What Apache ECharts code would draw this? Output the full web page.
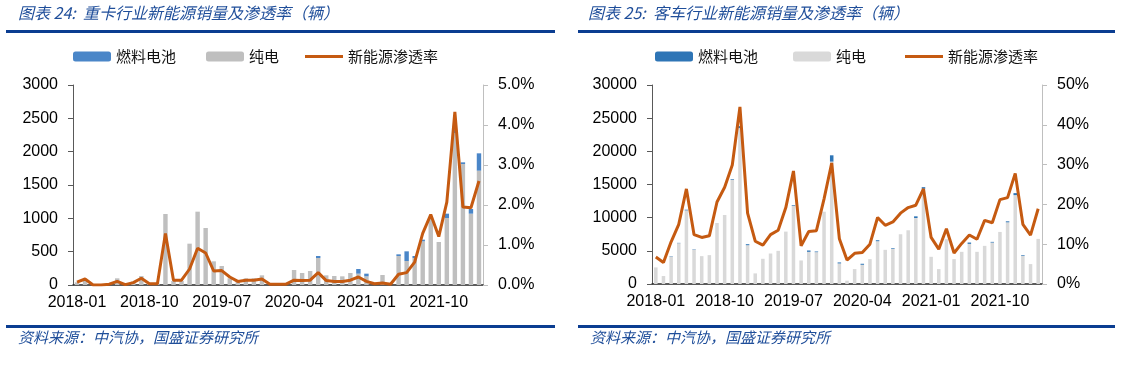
<!DOCTYPE html>
<html><head><meta charset="utf-8">
<script src="https://cdn.jsdelivr.net/npm/echarts@6/dist/echarts.min.js"></script>
<style>
html,body{margin:0;padding:0;background:#fff;}
#a,#b{position:absolute;top:0;width:561px;height:377px;}
#a{left:0}#b{left:561px}
</style></head><body>
<div id="a"></div><div id="b"></div>
<script>
const months = ['2018-01','2018-02','2018-03','2018-04','2018-05','2018-06','2018-07','2018-08','2018-09','2018-10','2018-11','2018-12',
'2019-01','2019-02','2019-03','2019-04','2019-05','2019-06','2019-07','2019-08','2019-09','2019-10','2019-11','2019-12',
'2020-01','2020-02','2020-03','2020-04','2020-05','2020-06','2020-07','2020-08','2020-09','2020-10','2020-11','2020-12',
'2021-01','2021-02','2021-03','2021-04','2021-05','2021-06','2021-07','2021-08','2021-09','2021-10','2021-11','2021-12',
'2022-01','2022-02','2022-03'];

// 重卡 (heavy trucks)
const truckBEV = [40,60,0,0,20,100,10,50,135,20,20,1065,60,60,620,1100,855,355,285,100,50,100,100,145,0,0,0,225,180,210,405,145,135,130,180,170,130,0,150,0,435,360,405,655,1000,645,1005,2280,1815,1070,1715];
const truckFCV = [0,0,0,0,0,0,0,0,0,0,0,0,0,0,0,0,0,0,0,0,0,0,0,0,0,0,0,0,0,0,30,0,0,0,0,70,40,0,0,0,25,145,30,25,20,0,65,50,25,70,260];
const truckRate = [0.07,0.15,0,0,0.02,0.09,0.01,0.06,0.17,0.03,0.03,1.29,0.12,0.12,0.4,0.92,0.8,0.35,0.36,0.2,0.09,0.12,0.12,0.15,0.02,0.02,0.02,0.12,0.11,0.12,0.31,0.11,0.09,0.09,0.12,0.2,0.09,0.03,0.05,0.02,0.27,0.31,0.57,1.29,1.76,1.21,2.07,4.33,1.95,1.93,2.6];

// 客车 (buses)
const busBEV = [2500,1200,4150,6150,11100,5200,4200,4350,9200,10400,15700,23500,5850,1600,3800,4600,5000,7900,11800,3550,4850,4800,10900,18450,3100,500,2250,2900,3750,6450,5150,5300,7500,8100,9950,14350,4100,2250,6750,3750,4850,6050,4850,5750,6250,7850,9300,13400,4250,3000,6800];
const busFCV = [0,0,50,50,100,50,0,0,0,0,100,300,150,0,0,0,0,0,100,0,200,100,0,950,150,0,0,150,0,150,0,100,0,0,250,250,0,0,0,0,0,200,0,0,100,0,150,300,100,0,0];
const busRate = [6.8,5.4,10.6,15,23.9,12.4,11.7,12.1,20.6,24.3,29.9,44.5,17.8,10.75,9.75,12.4,13.5,19.2,28.4,9.6,13.2,13.4,21.4,30.4,11.4,6,7.7,7.9,10,16.7,14.75,15.6,17.8,19.2,19.8,23.9,11.7,8.75,13.9,7.8,10.2,12.3,11.25,16,15.4,21.2,21.7,27.8,15,12.3,18.9];

const barNames = ['燃料电池','纯电'];
const lineName = '新能源渗透率';
const SRC = '资料来源：中汽协，国盛证券研究所';
const BLUE_TXT = '#1f4e9a', RULE = '#0b3d91', ORANGE = '#C55A11';

function build(c){
  const legendText = {fontSize:15, color:'#111', fontFamily:'Noto Sans CJK SC'};
  return {
    animation:false,
    textStyle:{fontFamily:'Liberation Sans'},
    graphic:[
      {type:'text', left:c.titleX, top:5, style:{text:c.title, font:'italic 16px "Noto Sans CJK SC"', fill:BLUE_TXT}},
      {type:'rect', shape:{x:c.r0, y:30, width:c.r1-c.r0, height:3}, style:{fill:RULE}},
      {type:'rect', shape:{x:c.r0, y:325, width:c.r1-c.r0, height:3}, style:{fill:RULE}},
      {type:'text', left:c.srcX, top:330, style:{text:SRC, font:'italic 15px "Noto Sans CJK SC"', fill:BLUE_TXT}}
    ],
    legend:[
      {left:c.legendX, top:49, padding:0, itemWidth:38, itemHeight:10, itemGap:c.legendGap,
        textStyle:legendText, data:barNames},
      {left:c.legend2X, top:49, padding:0, itemWidth:38, itemHeight:3, icon:'rect',
        textStyle:legendText, data:[lineName]}
    ],
    grid:{left:c.gridL, top:85, width:c.gridW, height:c.gridH},
    xAxis:{type:'category', data:months,
      axisLine:{lineStyle:{color:'#262626', width:1.5}},
      axisTick:{inside:true, length:5, interval:0, lineStyle:{color:'#262626'}},
      axisLabel:{interval:8, fontSize:16, color:'#000', margin:10}},
    yAxis:[
      {type:'value', min:0, max:c.max, interval:c.interval, splitLine:{show:false},
        axisLine:{show:true, lineStyle:{color:'#595959'}},
        axisTick:{show:true, length:5, lineStyle:{color:'#595959'}},
        axisLabel:{fontSize:16, color:'#000', margin:15, formatter:v=>String(v)}},
      {type:'value', min:0, max:c.rmax, interval:c.rint, position:'right', splitLine:{show:false},
        axisLine:{show:true, lineStyle:{color:'#bfbfbf'}},
        axisTick:{show:true, length:5, lineStyle:{color:'#bfbfbf'}},
        axisLabel:{fontSize:16, color:'#000', margin:15, formatter:c.fmt}}
    ],
    series:[
      {name:'纯电', type:'bar', stack:'s', data:c.bev, barWidth:c.barW, itemStyle:{color:c.gray}},
      {name:'燃料电池', type:'bar', stack:'s', data:c.fcv, barWidth:c.barW, itemStyle:{color:c.blue}},
      {name:lineName, type:'line', yAxisIndex:1, data:c.rate, symbol:'none', z:5,
        lineStyle:{width:3, color:ORANGE}, itemStyle:{color:ORANGE}}
    ]
  };
}

const ca = echarts.init(document.getElementById('a'));
ca.setOption(build({
  title:'图表 24:  重卡行业新能源销量及渗透率（辆）', titleX:18, r0:6, r1:555, srcX:18,
  legendX:73, legendGap:30, legend2X:305, gridL:73, gridW:410, gridH:200,
  max:3000, interval:500, rmax:5, rint:1, fmt:v=>v.toFixed(1)+'%',
  bev:truckBEV, fcv:truckFCV, rate:truckRate, barW:'55%', gray:'#BFBFBF', blue:'#4A86C8'
}));
const cb = echarts.init(document.getElementById('b'));
cb.setOption(build({
  title:'图表 25:  客车行业新能源销量及渗透率（辆）', titleX:27, r0:17, r1:554, srcX:29,
  legendX:94, legendGap:35, legend2X:344, gridL:91, gridW:390, gridH:199,
  max:30000, interval:5000, rmax:50, rint:10, fmt:v=>v+'%',
  bev:busBEV, fcv:busFCV, rate:busRate, barW:'46%', gray:'#D9D9D9', blue:'#2E75B6'
}));
</script>
</body></html>
